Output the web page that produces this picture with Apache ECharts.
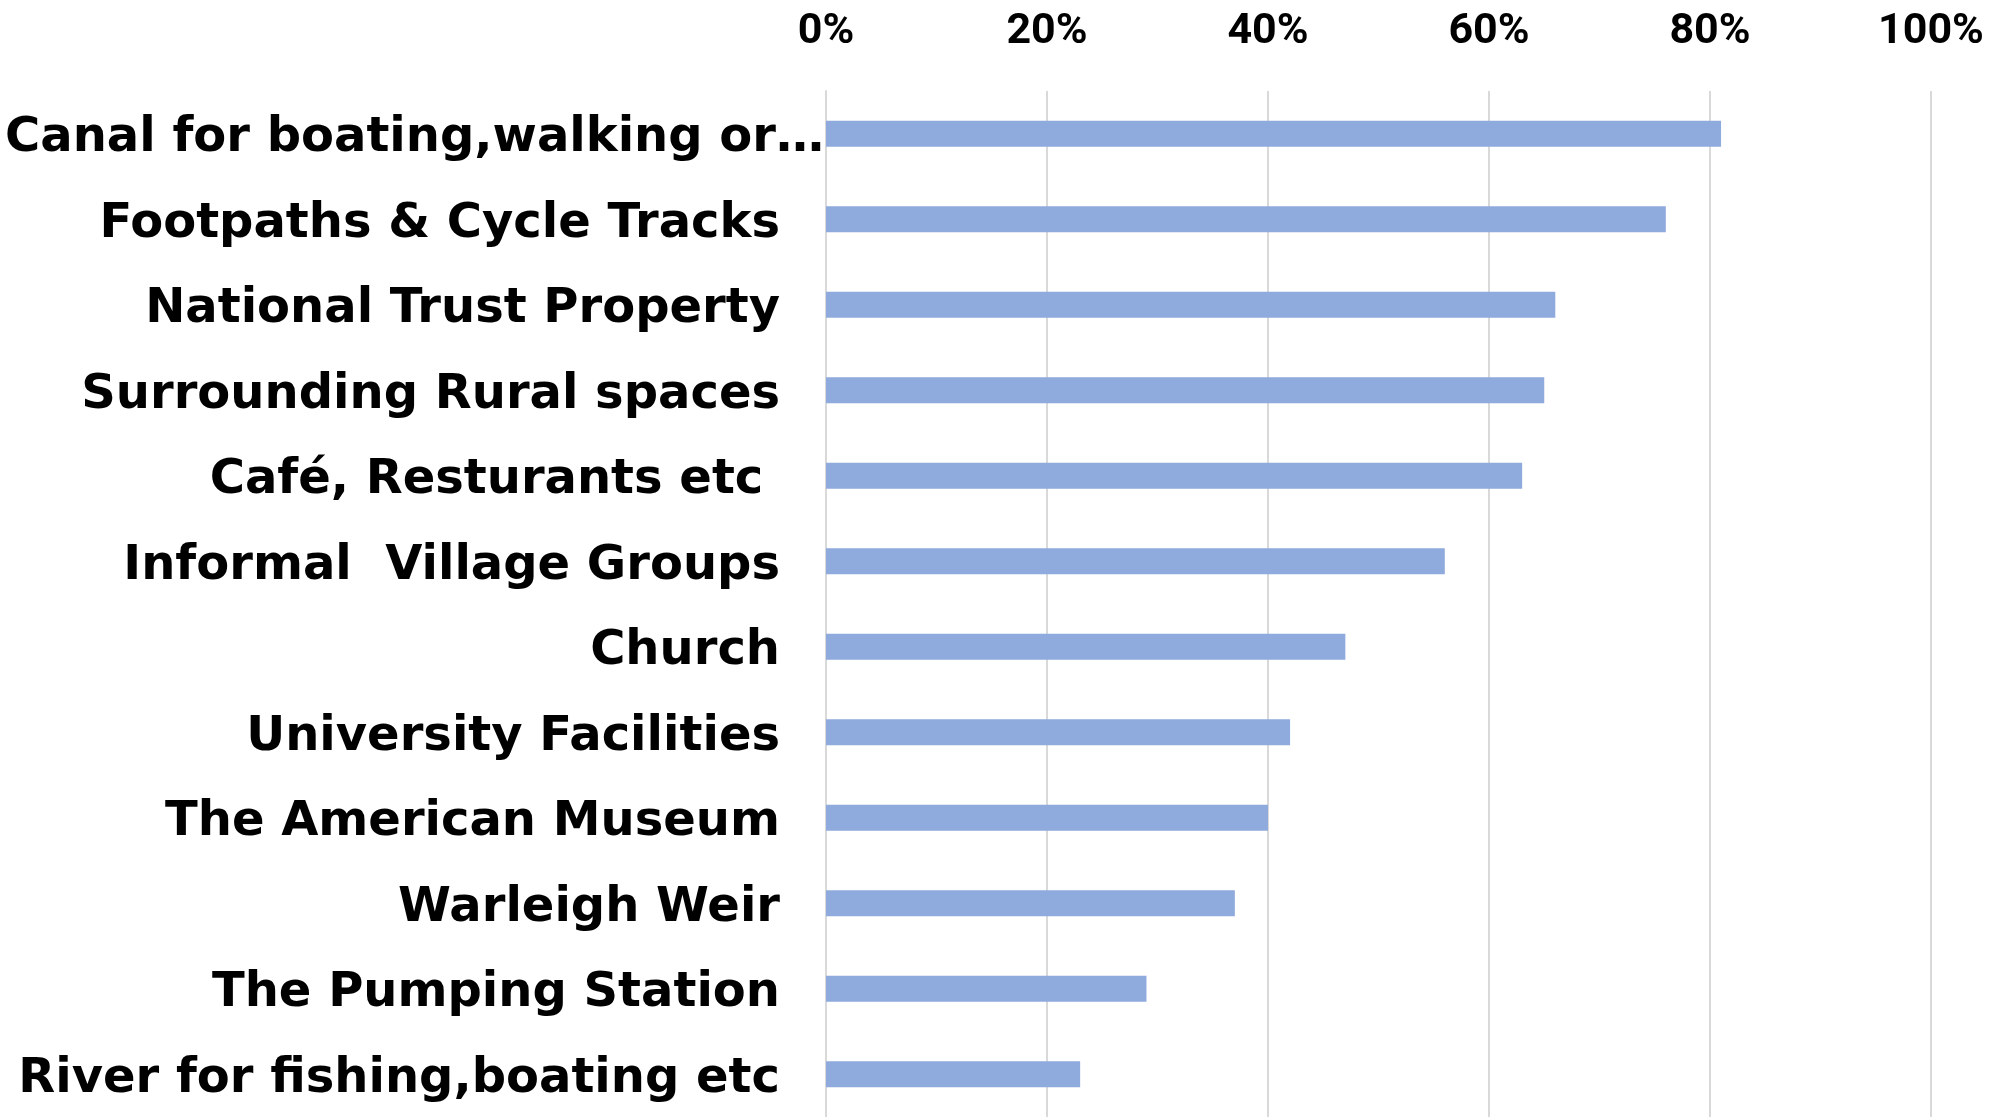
<!DOCTYPE html>
<html>
<head>
    <meta charset="utf-8">
    <title>Places used</title>
    <script src="https://cdn.jsdelivr.net/npm/echarts@6/dist/echarts.min.js" type="text/javascript" charset="utf-8"></script>
    <style>
        html, body { margin: 0; padding: 0; background: #fff; }
    </style>
</head>
<body>
<div id="main" style="width: 2011px;height: 1117px;"></div>
<script type="text/javascript">

    // categories, top to bottom
    var places = [
        'Canal for boating,walking or…',
        'Footpaths & Cycle Tracks',
        'National Trust Property',
        'Surrounding Rural spaces',
        'Café, Resturants etc ',
        'Informal  Village Groups',
        'Church',
        'University Facilities',
        'The American Museum',
        'Warleigh Weir',
        'The Pumping Station',
        'River for fishing,boating etc'
    ];
    // percent of respondents
    var share = [81, 76, 66, 65, 63, 56, 47, 42, 40, 37, 29, 23];
    var ticks = [0, 20, 40, 60, 80, 100];

    var myChart = echarts.init(document.getElementById('main'));

    myChart.setOption({
        animation: false,
        grid: {
            left: 826,
            right: 80,
            top: 91,
            height: 1031
        },
        xAxis: {
            type: 'value',
            position: 'top',
            min: ticks[0],
            max: ticks[ticks.length - 1],
            interval: 20,
            axisLine: { show: false },
            axisTick: { show: false },
            splitLine: { lineStyle: { color: '#d9d9d9', width: 2 } },
            axisLabel: {
                formatter: '{value}%',
                color: '#000',
                fontFamily: 'Roboto',
                fontWeight: 'bold',
                fontSize: 43,
                margin: 37
            }
        },
        yAxis: {
            type: 'category',
            inverse: true,
            data: places,
            axisTick: { show: false },
            axisLine: { show: true, lineStyle: { color: '#d9d9d9', width: 2 } },
            axisLabel: {
                margin: 2,
                formatter: function (v, i) {
                    return i === 0 ? '{a|' + v + '}' : '{b|' + v + '}';
                },
                rich: {
                    a: {
                        color: '#000',
                        fontFamily: 'DejaVu Sans',
                        fontWeight: 'bold',
                        fontSize: 48,
                        padding: [10, 0, 0, 0]
                    },
                    b: {
                        color: '#000',
                        fontFamily: 'DejaVu Sans',
                        fontWeight: 'bold',
                        fontSize: 48,
                        padding: [10, 44, 0, 0]
                    }
                }
            }
        },
        series: [{
            type: 'bar',
            data: share,
            barWidth: 26,
            itemStyle: { color: '#8faadc' }
        }]
    });
</script>
</body>
</html>
